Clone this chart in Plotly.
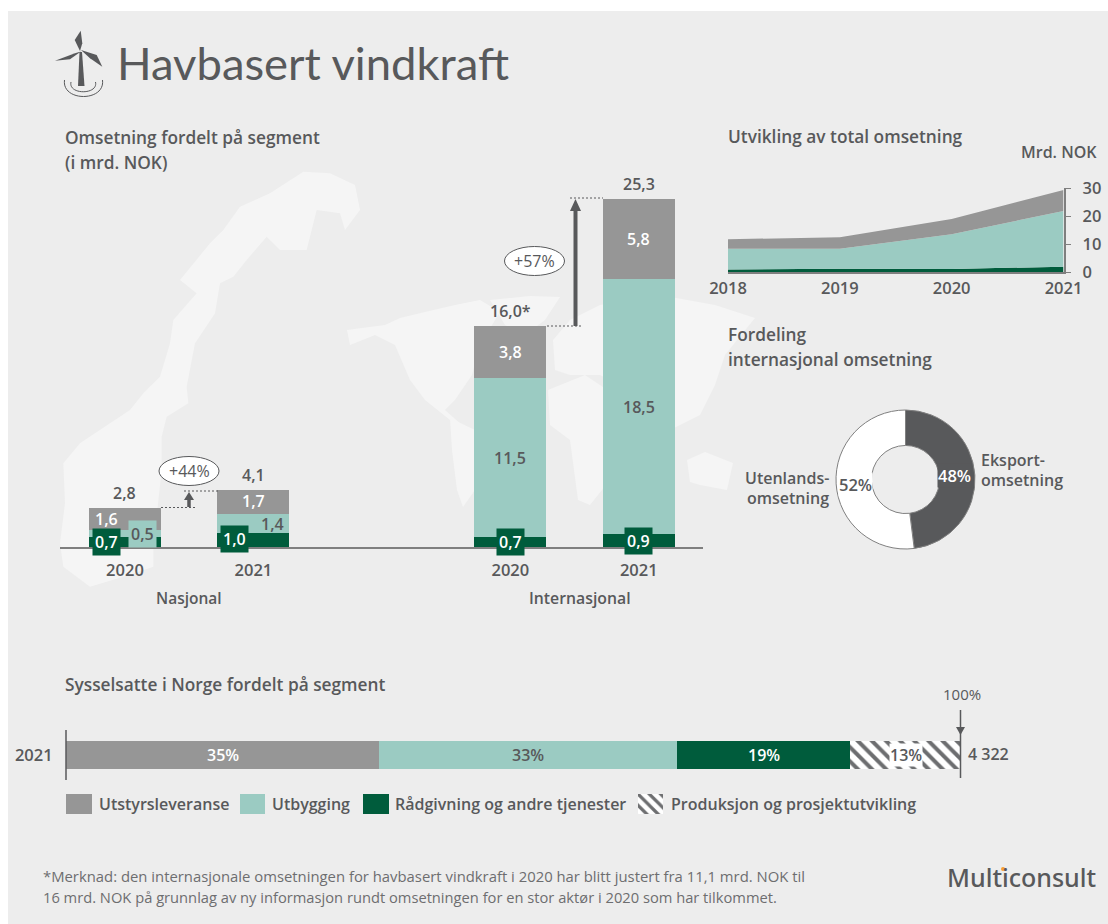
import plotly.graph_objects as go

# ---------- data ----------
bar_categories = ["Nasjonal 2020", "Nasjonal 2021", " ", "Internasjonal 2020", "Internasjonal 2021"]
bar_tick_labels = ["2020", "2021", "", "2020", "2021"]
radgivning = [0.7, 1.0, None, 0.7, 0.9]
utbygging = [0.5, 1.4, None, 11.5, 18.5]
utstyr = [1.6, 1.7, None, 3.8, 5.8]
totals = ["2,8", "4,1", "", "16,0*", "25,3"]

years = [2018, 2019, 2020, 2021]
trend_radgivning = [0.9, 1.2, 1.1, 1.9]
trend_utbygging = [7.4, 7.1, 12.4, 19.9]
trend_utstyr = [3.4, 4.1, 5.4, 7.5]

donut_labels = ["Eksportomsetning", "Utenlandsomsetning"]
donut_values = [48, 52]

employment_labels = ["Utstyrsleveranse", "Utbygging", "Rådgivning og andre tjenester", "Produksjon og prosjektutvikling"]
employment_values = [35.0, 33.3, 19.3, 12.4]
employment_text = ["35%", "33%", "19%", "13%"]
employment_total = "4 322"

# ---------- style ----------
W, H = 1108, 924
GREY, TEAL, GREEN = "#969696", "#9BCBC2", "#005C3C"
TXT, DARK, BG, LAND = "#58595B", "#58595B", "#EDEDED", "#F5F5F5"
FONT = "Open Sans"
HEAD = 17.3
px = lambda x: x / W
py = lambda y: 1 - y / H

fig = go.Figure()
ann, shp = [], []


def text(x, y, s, size=16, color=TXT, anchor="left", weight=600, family=FONT, bg=None):
    ann.append(dict(xref="paper", yref="paper", x=px(x), y=py(y), text=s, showarrow=False,
                    xanchor=anchor, yanchor="middle", borderpad=0, bgcolor=bg,
                    font=dict(size=size, color=color, family=family, weight=weight)))


def poly(points, color=LAND, layer="below"):
    path = "M " + " L ".join(f"{px(a):.5f} {py(b):.5f}" for a, b in points) + " Z"
    shp.append(dict(type="path", xref="paper", yref="paper", path=path, fillcolor=color,
                    line=dict(width=0), layer=layer))


def line(x0, y0, x1, y1, color=DARK, width=1, dash="solid", layer="above"):
    shp.append(dict(type="line", xref="paper", yref="paper", x0=px(x0), y0=py(y0), x1=px(x1), y1=py(y1),
                    line=dict(color=color, width=width, dash=dash), layer=layer))


def rect(x0, y0, x1, y1, color):
    shp.append(dict(type="rect", xref="paper", yref="paper", x0=px(x0), y0=py(y0), x1=px(x1), y1=py(y1),
                    fillcolor=color, line=dict(width=0), layer="below"))


# background
rect(8, 11, 1108, 924, BG)

# map decoration (land silhouettes)
norway_zoom = [(150, 1250), (70, 1190), (60, 1120), (75, 1000), (70, 880), (120, 820), (210, 760), (270, 720),
               (310, 670), (360, 620), (390, 520), (400, 450), (470, 370), (420, 330), (510, 220), (550, 180),
               (600, 110), (690, 70), (790, 5), (870, 10), (945, 45), (960, 120), (915, 180), (900, 130),
               (830, 120), (800, 240), (720, 240), (680, 200), (620, 270), (580, 320), (540, 340), (525, 430),
               (465, 520), (440, 650), (445, 700), (380, 740), (365, 800), (365, 900), (340, 1130), (340, 1190),
               (250, 1220)]
poly([(40 + a / 3, 170 + b / 3) for a, b in norway_zoom])
poly([(347, 330), (362, 328), (385, 325), (400, 318), (425, 312), (455, 305), (480, 300), (500, 312), (480, 345),
      (472, 375), (455, 400), (445, 410), (462, 425), (450, 420), (425, 400), (410, 380), (395, 345), (375, 335), (350, 345)])
poly([(450, 418), (475, 430), (500, 445), (488, 470), (475, 490), (463, 507), (457, 490), (452, 450)])
poly([(490, 300), (530, 296), (560, 297), (545, 320), (525, 335), (505, 325)])
poly([(553, 340), (570, 320), (600, 305), (660, 295), (715, 305), (755, 318), (725, 355), (715, 385), (700, 415),
      (670, 430), (650, 395), (620, 385), (600, 375), (570, 375), (555, 370)])
poly([(548, 390), (585, 375), (615, 395), (632, 410), (612, 445), (610, 480), (590, 505), (578, 500), (570, 440), (550, 425)])
poly([(687, 460), (705, 452), (733, 463), (727, 490), (700, 485), (690, 482)])

# ---------- main stacked bars ----------
for name, vals, col in (("Rådgivning og andre tjenester", radgivning, GREEN),
                        ("Utbygging", utbygging, TEAL), ("Utstyrsleveranse", utstyr, GREY)):
    fig.add_trace(go.Bar(name=name, x=bar_categories, y=vals, width=0.56, marker=dict(color=col, line=dict(width=0)),
                         xaxis="x", yaxis="y", showlegend=False))

label_shift = {(0, 0): (-18, 0), (0, 1): (18, 0), (0, 2): (-18, 0), (1, 0): (-19, 1), (1, 1): (19, 0), (1, 2): (0, 1)}
series = [radgivning, utbygging, utstyr]
for i, cat in enumerate(bar_categories):
    if not totals[i]:
        continue
    base = 0
    for s, vals in enumerate(series):
        v = vals[i]
        dx, dy = label_shift.get((i, s), (0, 0))
        bgcol = {0: GREEN, 1: TEAL if i == 0 else None, 2: None}[s]
        col = TXT if s == 1 else "white"
        ann.append(dict(xref="x", yref="y", x=cat, y=base + v / 2, xshift=dx, yshift=dy, showarrow=False,
                        text=f"{v:.1f}".replace(".", ","), bgcolor=bgcol, borderpad=2 if bgcol else 0,
                        font=dict(size=16, color=col, family=FONT, weight=600)))
        base += v
    ann.append(dict(xref="x", yref="y", x=cat, y=base, yshift=15, showarrow=False, text=totals[i],
                    font=dict(size=16, color=TXT, family=FONT, weight=600)))

# growth marks
line(161, 507.5, 195, 507.5, dash="2px,2px")
line(184, 491, 218, 491, dash="2px,2px")
line(547, 326, 581, 326, dash="2px,2px")
line(570, 198, 603, 198, dash="2px,2px")
line(189, 500, 189, 507, width=3.5)
poly([(184, 500), (194, 500), (189, 492)], color=DARK, layer="above")
line(575.5, 211, 575.5, 326, width=4)
poly([(570, 211), (581, 211), (575.5, 199)], color=DARK, layer="above")
for cx, cy, s in ((189, 471, "+44%"), (534.5, 261, "+57%")):
    shp.append(dict(type="circle", xref="paper", yref="paper", x0=px(cx - 30), x1=px(cx + 30), y0=py(cy - 14.5),
                    y1=py(cy + 14.5), fillcolor="white", line=dict(color=DARK, width=1), layer="above"))
    text(cx, cy, s, size=16, anchor="center", weight=500)

# ---------- trend area ----------
for name, vals, col in (("Rådgivning", trend_radgivning, GREEN), ("Utbygging", trend_utbygging, TEAL),
                        ("Utstyr", trend_utstyr, GREY)):
    fig.add_trace(go.Scatter(name=name, x=years, y=vals, stackgroup="one", mode="none", fillcolor=col,
                             xaxis="x2", yaxis="y2", showlegend=False))

# ---------- donut ----------
fig.add_trace(go.Pie(labels=donut_labels, values=donut_values, hole=0.49, sort=False, direction="clockwise",
                     rotation=0, textinfo="none", showlegend=False,
                     marker=dict(colors=[DARK, "white"], line=dict(color="#808080", width=1)),
                     domain=dict(x=[px(836), px(975)], y=[py(549), py(410)])))
text(954, 475, f"{donut_values[0]}%", size=16.5, color="white", anchor="center", bg=DARK)
text(855.5, 484, f"{donut_values[1]}%", size=16.5, color=TXT, anchor="center", bg="white")
text(830, 478, "Utenlands-", anchor="right")
text(830, 498, "omsetning", anchor="right")
text(980, 460, "Eksport-")
text(980, 480, "omsetning")

# ---------- employment bar ----------
emp_colors = [GREY, TEAL, GREEN, "white"]
cum = 0
for k, (n, v, c, t) in enumerate(zip(employment_labels, employment_values, emp_colors, employment_text)):
    pat = dict(shape="\\", fgcolor="#6D6E70", fgopacity=1, bgcolor="white", size=10, solidity=0.4) if k == 3 else None
    fig.add_trace(go.Bar(name=n, x=[v], y=["2021"], orientation="h", width=1, xaxis="x3", yaxis="y3", showlegend=False,
                         marker=dict(color=c, line=dict(width=0), pattern=pat)))
    ann.append(dict(xref="x3", yref="y3", x=cum + v / 2, y=0, text=t, showarrow=False, borderpad=0,
                    bgcolor="white" if k == 3 else None,
                    font=dict(size=16, family=FONT, weight=600, color="white" if k in (0, 2) else TXT)))
    cum += v
line(66, 730, 66, 780, color=DARK, width=1.5)
line(960.5, 710, 960.5, 778, color=DARK, width=1.5)
poly([(956, 727), (965, 727), (960.5, 735)], color=DARK, layer="above")
text(962, 694, "100%", anchor="center", size=15, weight=500)
text(967, 754, employment_total, size=16)

# legend
swatches = [(66, 92, GREY, 98), (240, 265, TEAL, 271), (363, 389, GREEN, 394)]
for (a, b, c, tx), n in zip(swatches, employment_labels):
    rect(a, 794, b, 814, c)
    text(tx, 804, n, size=16)
fig.add_trace(go.Bar(x=[1], y=[employment_labels[3]], orientation="h", width=1, xaxis="x4", yaxis="y4", showlegend=False,
                     marker=dict(color="white", line=dict(width=0),
                                 pattern=dict(shape="\\", fgcolor="#6D6E70", fgopacity=1, bgcolor="white", size=8, solidity=0.4))))
text(670, 804, employment_labels[3], size=16)

# ---------- titles and notes ----------
text(116, 63, "Havbasert vindkraft", size=45.4, weight=400, family="Lato")
text(64, 137, "Omsetning fordelt på segment", size=HEAD)
text(64, 162, "(i mrd. NOK)", size=HEAD)
text(727, 136, "Utvikling av total omsetning", size=HEAD)
text(1098, 152, "Mrd. NOK", anchor="right")
text(727, 334, "Fordeling", size=HEAD)
text(727, 359, "internasjonal omsetning", size=HEAD)
text(64, 684, "Sysselsatte i Norge fordelt på segment", size=HEAD)
text(189, 598, "Nasjonal", anchor="center", size=15.5)
text(580, 598, "Internasjonal", anchor="center", size=15.8)
text(42, 876, "*Merknad: den internasjonale omsetningen for havbasert vindkraft i 2020 har blitt justert fra 11,1 mrd. NOK til",
     size=14.85, weight=400, color="#6D6E70")
text(42, 897, "16 mrd. NOK på grunnlag av ny informasjon rundt omsetningen for en stor aktør i 2020 som har tilkommet.",
     size=14.7, weight=400, color="#6D6E70")
text(946, 877, "Multiconsult", size=25, weight=500, family="Noto Sans")
shp.append(dict(type="circle", xref="paper", yref="paper", x0=px(1001), x1=px(1005), y0=py(867), y1=py(871),
                fillcolor="#F7A030", line=dict(width=0), layer="above"))

# ---------- turbine icon ----------
poly([(79.5, 52), (82, 52), (84.5, 86), (78, 86)], color=DARK, layer="above")
poly([(80.7, 30.7), (74.7, 40), (80, 51), (82.3, 43.3)], color=DARK, layer="above")
poly([(55, 60.7), (75, 53.3), (81, 51.5), (70, 59.3)], color=DARK, layer="above")
poly([(81, 50), (96.7, 55), (102.3, 66.7), (90, 58.3)], color=DARK, layer="above")
for x0, x1, yt, c0 in ((64.5, 102.5, 80, 102), (71, 95.5, 82, 95)):
    shp.append(dict(type="path", xref="paper", yref="paper",
                    path=f"M {px(x0):.5f} {py(yt):.5f} C {px(x0 - 3):.5f} {py(c0):.5f} {px(x1 + 3):.5f} {py(c0):.5f} {px(x1):.5f} {py(yt):.5f}",
                    line=dict(color=DARK, width=1), layer="above"))

# ---------- layout ----------
tick_font = dict(size=16.5, color=TXT, family=FONT, weight=600)
fig.update_layout(
    template="none",
    width=W, height=H, margin=dict(l=0, r=0, t=0, b=0, pad=0), autosize=False,
    paper_bgcolor="white", plot_bgcolor="rgba(0,0,0,0)", barmode="stack", bargap=0,
    showlegend=False, annotations=ann, shapes=shp, font=dict(family=FONT, color=TXT),
    xaxis=dict(automargin=False, domain=[px(60), px(703)], type="category", categoryorder="array", categoryarray=bar_categories,
               range=[-0.506, 4.5], anchor="y", showgrid=False, zeroline=False, showline=True, linecolor="#7F7F7F",
               linewidth=2, tickmode="array", tickvals=bar_categories, ticktext=bar_tick_labels, ticks="outside",
               ticklen=7, tickcolor="rgba(0,0,0,0)", tickfont=tick_font),
    yaxis=dict(automargin=False, domain=[py(547), py(188.2)], range=[0, 26], anchor="x", visible=False, showgrid=False, zeroline=False),
    xaxis2=dict(automargin=False, domain=[px(728), px(1063.5)], range=[2018, 2021], anchor="y2", showgrid=False, zeroline=False,
                showline=True, linecolor="#7F7F7F", linewidth=2, tickmode="array", tickvals=years, ticks="",
                tickfont=tick_font),
    yaxis2=dict(automargin=False, domain=[py(272), py(188)], range=[0, 30], anchor="x2", side="right", showgrid=False, zeroline=False,
                showline=True, linecolor="#7F7F7F", linewidth=1.5, tickmode="array", tickvals=[0, 10, 20, 30],
                ticks="outside", ticklen=6, tickcolor="#7F7F7F", tickfont=tick_font, ticklabelstandoff=8),
    xaxis3=dict(automargin=False, domain=[px(66), px(961)], range=[0, 100], anchor="y3", visible=False, showgrid=False, zeroline=False),
    yaxis3=dict(automargin=False, domain=[py(769), py(741)], type="category", range=[-0.5, 0.5], anchor="x3", showgrid=False,
                zeroline=False, showline=False, ticks="outside", ticklen=9, tickcolor="rgba(0,0,0,0)", tickfont=tick_font),
    xaxis4=dict(automargin=False, domain=[px(638), px(663)], range=[0, 1], anchor="y4", visible=False, showgrid=False, zeroline=False),
    yaxis4=dict(automargin=False, domain=[py(814), py(794)], type="category", range=[-0.5, 0.5], anchor="x4", visible=False),
)
fig.write_html("out.html", config={"displayModeBar": False},
               post_script="document.body.style.margin='0';document.body.style.overflow='hidden';")
